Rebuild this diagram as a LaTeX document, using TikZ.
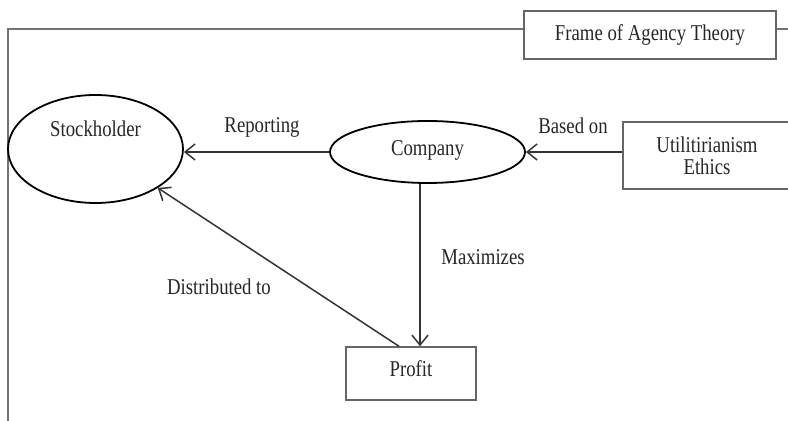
\documentclass[tikz,border=0pt]{standalone}
\usepackage{fontspec}
\setmainfont{Liberation Serif}[FakeStretch=0.83]
\usetikzlibrary{shapes.geometric,arrows.meta,positioning}
\tikzset{
  actor/.style={ellipse,draw=black,line width=0.9pt,inner sep=0pt},
  item/.style={rectangle,draw=black!60,line width=0.7pt,inner sep=0pt},
  lbl/.style={inner sep=0pt,text=black!85},
  arr/.style={draw=black!80,line width=0.75pt,-{Straight Barb[length=5pt,width=8pt,line width=0.75pt]}},
  framing/.style={draw=black!55,line width=0.7pt}
}
\begin{document}
\begin{tikzpicture}[x=0.5pt,y=-0.5pt,font=\fontsize{11.3}{13}\selectfont,text=black!85]
  \useasboundingbox (0,0) rectangle (788,421);
  \clip (0,0) rectangle (788,421);
  % frame
  \node[item] (frame) at (650,35) [minimum width=126pt,minimum height=24pt] {Frame of Agency Theory};
  \coordinate (topleft) at (8,29);
  \coordinate (bottomleft) at (8,421);
  \coordinate (topright) at (788,29);
  \draw[framing] (bottomleft) -- (topleft) -- (topleft -| frame.west);
  \draw[framing] (frame.east |- topright) -- (topright);
  % parties
  \node[actor] (stock) at (95.5,149) [minimum width=87.5pt,minimum height=54pt,text depth=20pt] {Stockholder};
  \node[actor] (company) at (427.5,152) [minimum width=97.5pt,minimum height=31pt,text depth=4pt] {Company};
  \node[item] (util) at (707,155.5) [minimum width=84pt,minimum height=33.5pt,align=center,font=\fontsize{11.3}{11}\selectfont] {Utilitirianism\\Ethics};
  \node[item] (profit) at (411,373.5) [minimum width=65pt,minimum height=26.5pt,text depth=5pt] {Profit};
  % relations
  \draw[arr] (company.west) -- (stock.east |- company.west);
  \draw[arr] (util.west |- company.east) -- (company.east);
  \draw[arr] ([xshift=-3.75pt]company.south) -- ([xshift=-3.75pt]company.south |- profit.north);
  \draw[arr] ([xshift=-6pt]profit.north) -- (stock.-32);
  % labels
  \node[lbl] (reporting) at (262,127) {Reporting};
  \node[lbl] (basedon) at (573,126) {Based on};
  \node[lbl] (maximizes) at (483,257) {Maximizes};
  \node[lbl] (distributed) at (219,287) {Distributed to};
\end{tikzpicture}
\end{document}
